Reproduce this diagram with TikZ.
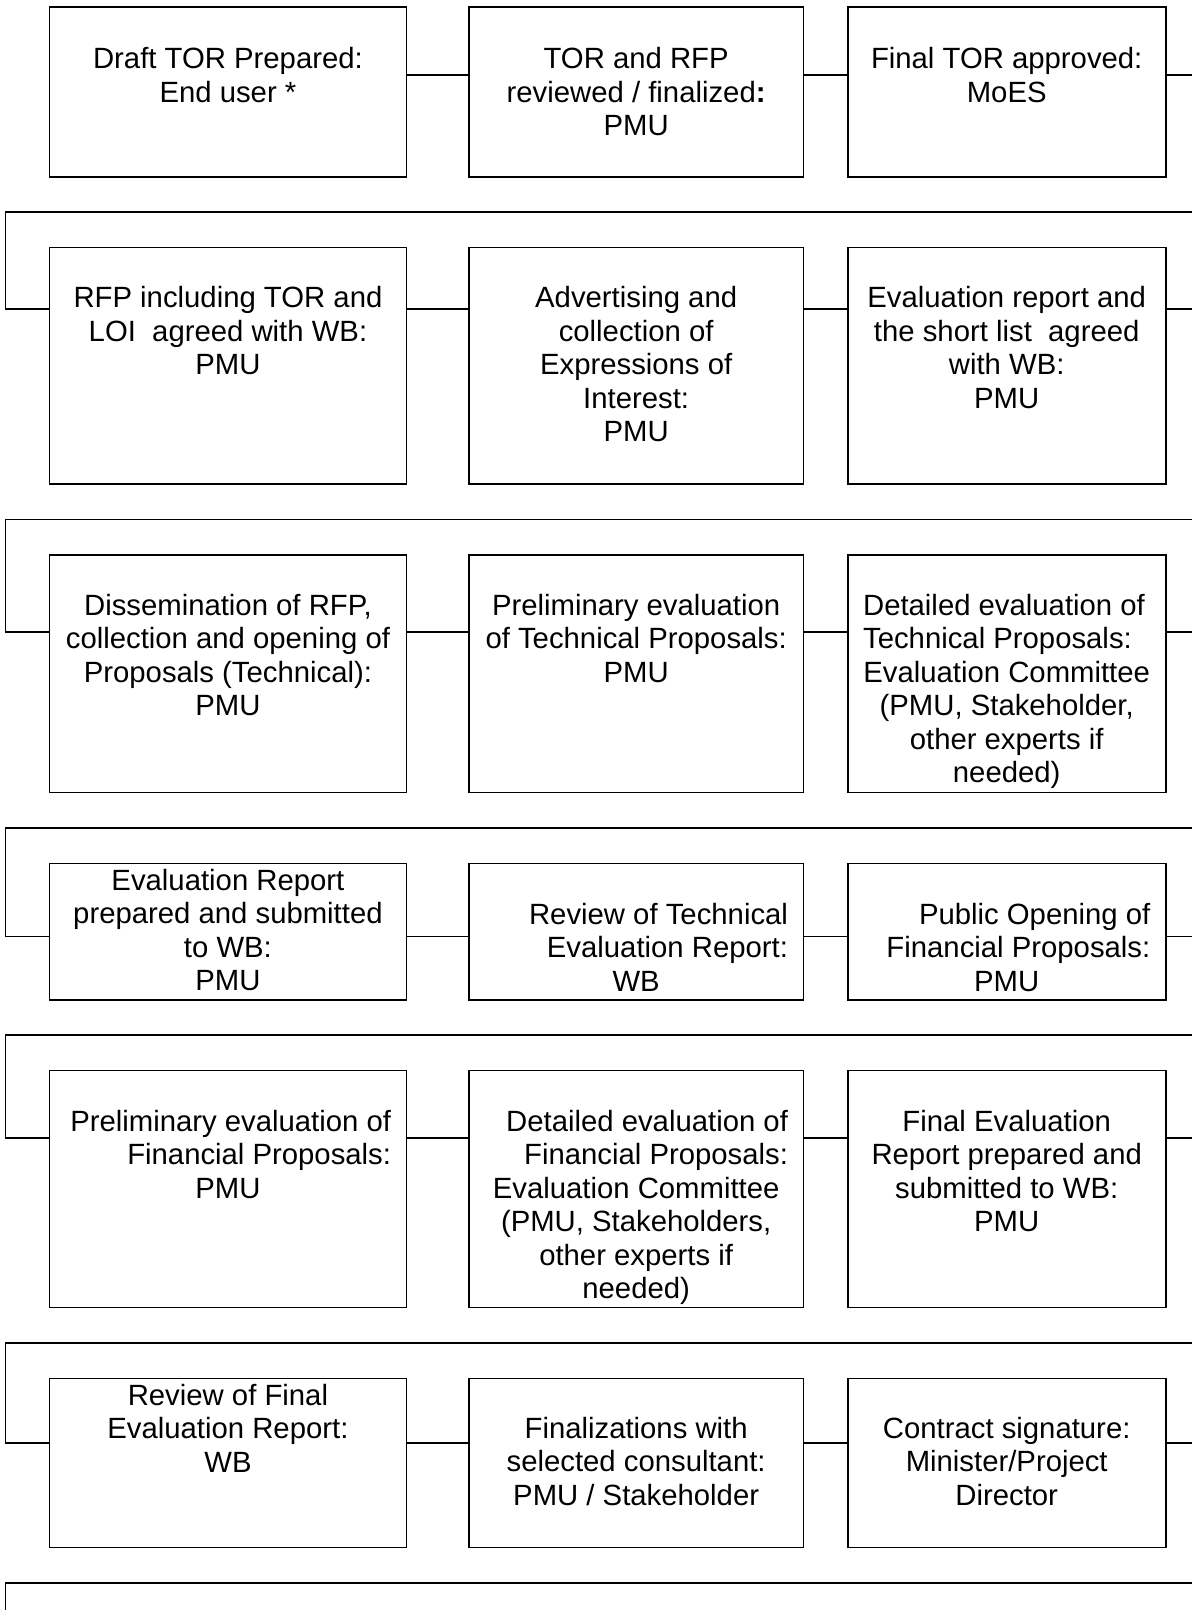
\documentclass[tikz,border=0pt]{standalone}
\usepackage{fontspec}
\setmainfont{Liberation Sans}
\usetikzlibrary{positioning,calc}
\tikzset{
  box/.style={draw, line width=0.8pt, inner sep=0pt},
  link/.style={line width=0.75pt},
}
% column widths and row heights
\newcommand{\cola}{178.55pt}
\newcommand{\colb}{167.25pt}
\newcommand{\colc}{159pt}
\newcommand{\rowa}{85pt}
\newcommand{\rowb}{118.3pt}
\newcommand{\rowc}{118.8pt}
\newcommand{\rowd}{68.2pt}
\newcommand{\rowe}{118.5pt}
\newcommand{\rowf}{84.5pt}
\newcommand{\stepfont}{\fontsize{14.65pt}{16.75pt}\selectfont}
% width, height, first baseline, text
\newcommand{\boxtext}[4]{\parbox[c][#2][t]{#1}{\stepfont\centering\rule{0pt}{#3}#4}}
\newcommand{\padl}[1]{\makebox[\linewidth][l]{\hspace*{7.7pt}#1}}
\newcommand{\padr}[1]{\makebox[\linewidth][r]{#1\hspace*{7.7pt}}}

\begin{document}
\begin{tikzpicture}
  \useasboundingbox (0,0) rectangle (596pt,-805pt);
  \coordinate (L) at (2.65pt,0);
  \coordinate (R) at (600pt,0);
  \coordinate (tail) at (2.65pt,-812pt);
  % Row 1
  \node[box, anchor=north west] (b11) at (24.3pt,-3pt)
    {\boxtext{\cola}{\rowa}{31pt}{Draft TOR Prepared:\\ End user *}};
  \node[box, right=30.4pt of b11] (b12)
    {\boxtext{\colb}{\rowa}{31pt}{TOR and RFP\\ reviewed / finalized\textbf{:}\\ PMU}};
  \node[box, right=21.35pt of b12] (b13)
    {\boxtext{\colc}{\rowa}{31pt}{Final TOR approved:\\ MoES}};
  % Row 2
  \node[box, below=34.6pt of b11] (b21)
    {\boxtext{\cola}{\rowb}{30pt}{RFP including TOR and\\ LOI\ \ agreed with WB:\\ PMU}};
  \node[box, right=30.4pt of b21] (b22)
    {\boxtext{\colb}{\rowb}{30pt}{Advertising and\\ collection of\\ Expressions of\\ Interest:\\ PMU}};
  \node[box, right=21.35pt of b22] (b23)
    {\boxtext{\colc}{\rowb}{30pt}{Evaluation report and\\ the short list\ \ agreed\\ with WB:\\ PMU}};
  % Row 3
  \node[box, below=34.6pt of b21] (b31)
    {\boxtext{\cola}{\rowc}{30pt}{Dissemination of RFP,\\ collection and opening of\\ Proposals (Technical):\\ PMU}};
  \node[box, right=30.4pt of b31] (b32)
    {\boxtext{\colb}{\rowc}{30pt}{Preliminary evaluation\\ of Technical Proposals:\\ PMU}};
  \node[box, right=21.35pt of b32] (b33)
    {\boxtext{\colc}{\rowc}{30pt}{\padl{Detailed evaluation of}\\ \padl{Technical Proposals:}\\ Evaluation Committee\\ (PMU, Stakeholder,\\ other experts if\\ needed)}};
  % Row 4
  \node[box, below=34.6pt of b31] (b41)
    {\boxtext{\cola}{\rowd}{13.3pt}{Evaluation Report\\ prepared and submitted\\ to WB:\\ PMU}};
  \node[box, right=30.4pt of b41] (b42)
    {\boxtext{\colb}{\rowd}{30.3pt}{\padr{Review of Technical}\\ \padr{Evaluation Report:}\\ WB}};
  \node[box, right=21.35pt of b42] (b43)
    {\boxtext{\colc}{\rowd}{30.3pt}{\padr{Public Opening of}\\ \padr{Financial Proposals:}\\ PMU}};
  % Row 5
  \node[box, below=34.6pt of b41] (b51)
    {\boxtext{\cola}{\rowe}{30.2pt}{\padr{Preliminary evaluation of}\\ \padr{Financial Proposals:}\\ PMU}};
  \node[box, right=30.4pt of b51] (b52)
    {\boxtext{\colb}{\rowe}{30.2pt}{\padr{Detailed evaluation of}\\ \padr{Financial Proposals:}\\ Evaluation Committee\\ (PMU, Stakeholders,\\ other experts if\\ needed)}};
  \node[box, right=21.35pt of b52] (b53)
    {\boxtext{\colc}{\rowe}{30.2pt}{Final Evaluation\\ Report prepared and\\ submitted to WB:\\ PMU}};
  % Row 6
  \node[box, below=34.6pt of b51] (b61)
    {\boxtext{\cola}{\rowf}{13.3pt}{Review of Final\\ Evaluation Report:\\ WB}};
  \node[box, right=30.4pt of b61] (b62)
    {\boxtext{\colb}{\rowf}{30pt}{Finalizations with\\ selected consultant:\\ PMU / Stakeholder}};
  \node[box, right=21.35pt of b62] (b63)
    {\boxtext{\colc}{\rowf}{30pt}{Contract signature:\\ Minister/Project\\ Director}};
  % connectors inside each row
  \foreach \r/\o in {1/34.5pt,2/31.15pt,3/38.8pt,4/37pt,5/34pt,6/32.65pt} {
    \coordinate (c\r) at ($(b\r1.north)+(0,-\o)$);
    \draw[link] (b\r1.east |- c\r) -- (b\r2.west |- c\r);
    \draw[link] (b\r2.east |- c\r) -- (b\r3.west |- c\r);
  }
  % row to row
  \foreach \r [count=\j from 2] in {1,...,5} {
    \coordinate (m\r) at ($(b\r1.south)!0.5!(b\j1.north)$);
    \draw[link] (b\r3.east |- c\r) -| (R |- m\r) -- (L |- m\r) |- (b\j1.west |- c\j);
  }
  \coordinate (m6) at ($(b61.south)+(0,-17.3pt)$);
  \draw[link] (b63.east |- c6) -| (R |- m6) -- (L |- m6) -- (tail);
\end{tikzpicture}
\end{document}
